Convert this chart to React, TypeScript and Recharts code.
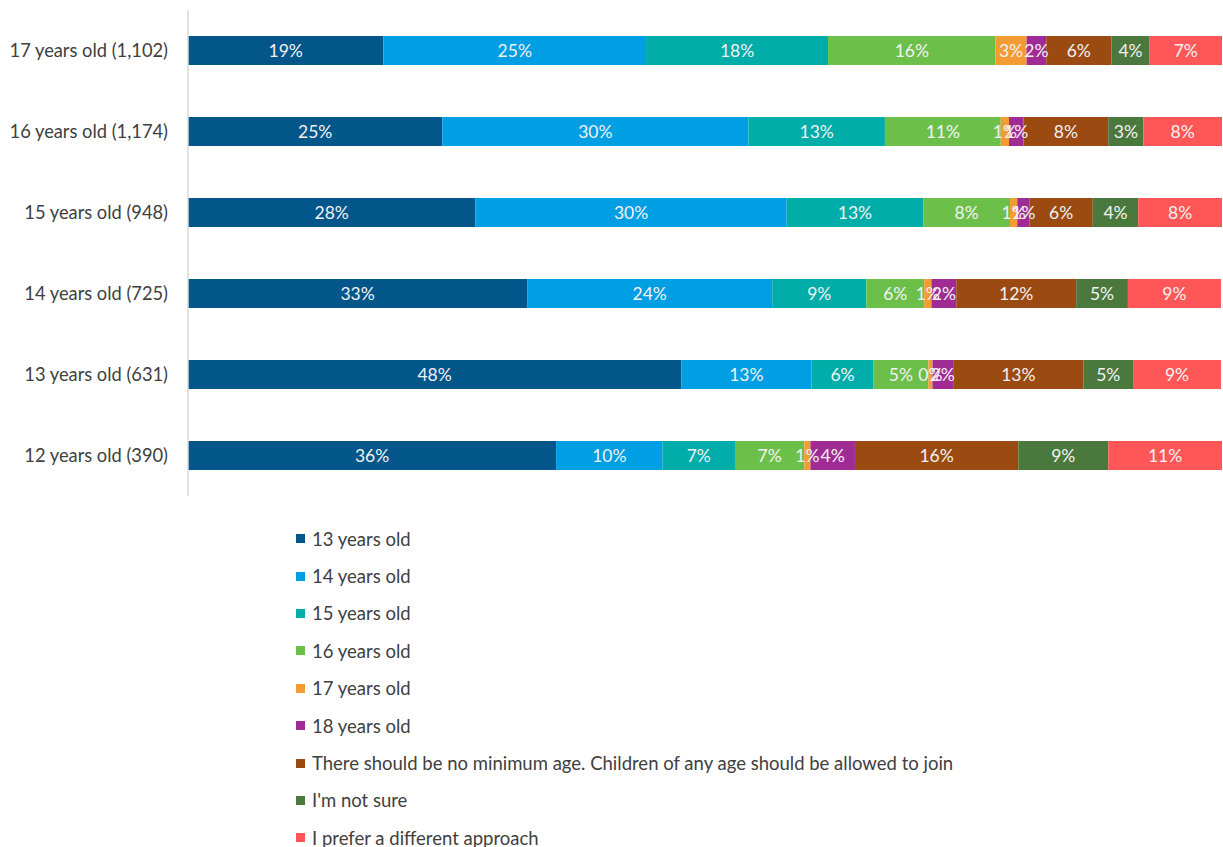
import { BarChart, Bar, XAxis, YAxis, Legend, LabelList } from "recharts";

const categories = [
  "17 years old (1,102)",
  "16 years old (1,174)",
  "15 years old (948)",
  "14 years old (725)",
  "13 years old (631)",
  "12 years old (390)",
];

const age13 = [18.9, 24.6, 27.8, 32.8, 47.7, 35.6];
const age14 = [25.4, 29.6, 30.1, 23.7, 12.6, 10.3];
const age15 = [17.6, 13.2, 13.2, 9.1, 6.0, 7.0];
const age16 = [16.2, 11.2, 8.4, 5.6, 5.3, 6.7];
const age17 = [3.0, 0.8, 0.7, 0.7, 0.4, 0.6];
const age18 = [1.9, 1.4, 1.2, 2.4, 2.0, 4.3];
const noMin = [6.3, 8.2, 6.1, 11.6, 12.6, 15.8];
const notSure = [3.7, 3.4, 4.4, 5.0, 4.8, 8.7];
const different = [7.0, 7.6, 8.2, 9.0, 8.5, 11.2];

const seriesNames = [
  "13 years old",
  "14 years old",
  "15 years old",
  "16 years old",
  "17 years old",
  "18 years old",
  "There should be no minimum age. Children of any age should be allowed to join",
  "I'm not sure",
  "I prefer a different approach",
];

const seriesValues = [age13, age14, age15, age16, age17, age18, noMin, notSure, different];

const COLORS = [
  "#03568A",
  "#009FE3",
  "#00ADA9",
  "#6CC04A",
  "#F39C34",
  "#A12B95",
  "#9B4A12",
  "#4B783D",
  "#FF5757",
];

const FONT = "Lato, 'Open Sans', sans-serif";

const data = categories.map((name, i) => {
  const row: any = { name };
  seriesValues.forEach((vals, s) => {
    row["s" + s] = vals[i];
  });
  return row;
});

const LegendBox = () => (
  <div style={{ fontFamily: FONT, fontSize: 18.5, color: "#404040", paddingTop: 24 }}>
    {seriesNames.map((n, i) => (
      <div key={n} style={{ display: "flex", alignItems: "center", height: 37.4 }}>
        <span
          style={{ width: 9, height: 9, background: COLORS[i], marginRight: 7, display: "inline-block" }}
        />
        <span>{n}</span>
      </div>
    ))}
  </div>
);

export default function App() {
  return (
    <div style={{ position: "absolute", left: 0, top: 0, width: 1223, height: 847, overflow: "hidden" }}>
      <BarChart
        width={1223}
        height={847}
        data={data}
        layout="vertical"
        margin={{ top: 10, right: 1, bottom: 0, left: 0 }}
        barSize={29}
      >
        <XAxis type="number" domain={[0, 100]} allowDataOverflow hide />
        <YAxis
          type="category"
          dataKey="name"
          width={188}
          tickLine={false}
          tickSize={0}
          tickMargin={20}
          axisLine={{ stroke: "#d9d9d9", strokeWidth: 1.5 }}
          tick={{ fill: "#404040", fontSize: 18.3, fontFamily: FONT }}
        />
        <Legend
          layout="vertical"
          verticalAlign="bottom"
          align="center"
          content={() => <LegendBox />}
          wrapperStyle={{ left: 296, width: 850, height: 351, overflow: "hidden" }}
        />
        {seriesNames.map((n, i) => (
          <Bar key={n} dataKey={"s" + i} name={n} stackId="a" fill={COLORS[i]} isAnimationActive={false}>
            <LabelList
              dataKey={"s" + i}
              position="center"
              formatter={(v: any) => `${Math.round(Number(v))}%`}
              style={{ fill: "#f2f2f2", fontSize: 17.5, fontFamily: FONT }}
            />
          </Bar>
        ))}
      </BarChart>
    </div>
  );
}
